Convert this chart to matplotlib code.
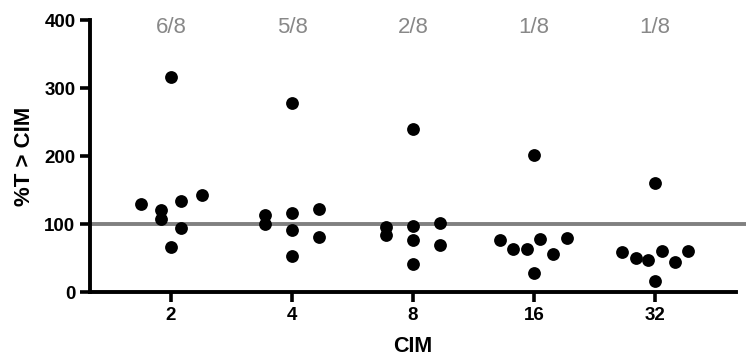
import matplotlib
matplotlib.use("Agg")
import matplotlib.pyplot as plt

plt.rcParams['font.family'] = ['Liberation Sans', 'DejaVu Sans']

categories = ["2", "4", "8", "16", "32"]
fractions = ["6/8", "5/8", "2/8", "1/8", "1/8"]

vals_2 = [317, 130, 121, 107, 134, 94, 66, 143]
vals_4 = [278, 113, 101, 116, 91, 54, 123, 81]
vals_8 = [240, 96, 84, 98, 77, 42, 102, 69]
vals_16 = [201, 77, 64, 64, 79, 56, 80, 29]
vals_32 = [161, 59, 50, 47, 60, 45, 60, 16]
series = [vals_2, vals_4, vals_8, vals_16, vals_32]

# horizontal swarm offsets (category units), layout only
off_2 = [0, -0.25, -0.083, -0.083, 0.083, 0.083, 0, 0.255]
off_4 = [0, -0.22, -0.22, 0, 0, 0, 0.225, 0.225]
off_8 = [0, -0.22, -0.22, 0, 0, 0, 0.22, 0.22]
off_16 = [0, -0.28, -0.17, -0.06, 0.05, 0.16, 0.27, 0]
off_32 = [0, -0.275, -0.16, -0.055, 0.06, 0.165, 0.275, 0]
offsets = [off_2, off_4, off_8, off_16, off_32]

threshold = 100

fig = plt.figure(figsize=(7.46, 3.56), dpi=100)
ax = fig.add_axes([0.1206, 0.179, 0.866, 0.7648])

for i, (vals, offs) in enumerate(zip(series, offsets)):
    xs = [i + o for o in offs]
    ax.scatter(xs, vals, s=85, color='black', zorder=3, linewidths=0)

ax.axhline(threshold, xmin=0, xmax=1.02, color='#808080', lw=2.8, zorder=2, clip_on=False)

for i, f in enumerate(fractions):
    ax.text(i, 389, f, ha='center', va='center', color='#888888', fontsize=16)

ax.set_xlim(-0.67, 4.67)
ax.set_ylim(0, 400)
ax.set_xticks(range(len(categories)))
ax.set_xticklabels(categories)
ax.set_yticks([0, 100, 200, 300, 400])

for s in ['top', 'right']:
    ax.spines[s].set_visible(False)
for s in ['left', 'bottom']:
    ax.spines[s].set_linewidth(2.8)
    ax.spines[s].set_capstyle('projecting')

ax.tick_params(axis='both', width=2.6, length=7.5, labelsize=13.5, pad=3)
for lab in ax.get_xticklabels() + ax.get_yticklabels():
    lab.set_fontweight('bold')

ax.set_xlabel('CIM', fontsize=15.5, fontweight='bold', labelpad=9)
ax.set_ylabel('%T > CIM', fontsize=16, fontweight='bold', labelpad=7)

fig.savefig('out.png', dpi=100)
